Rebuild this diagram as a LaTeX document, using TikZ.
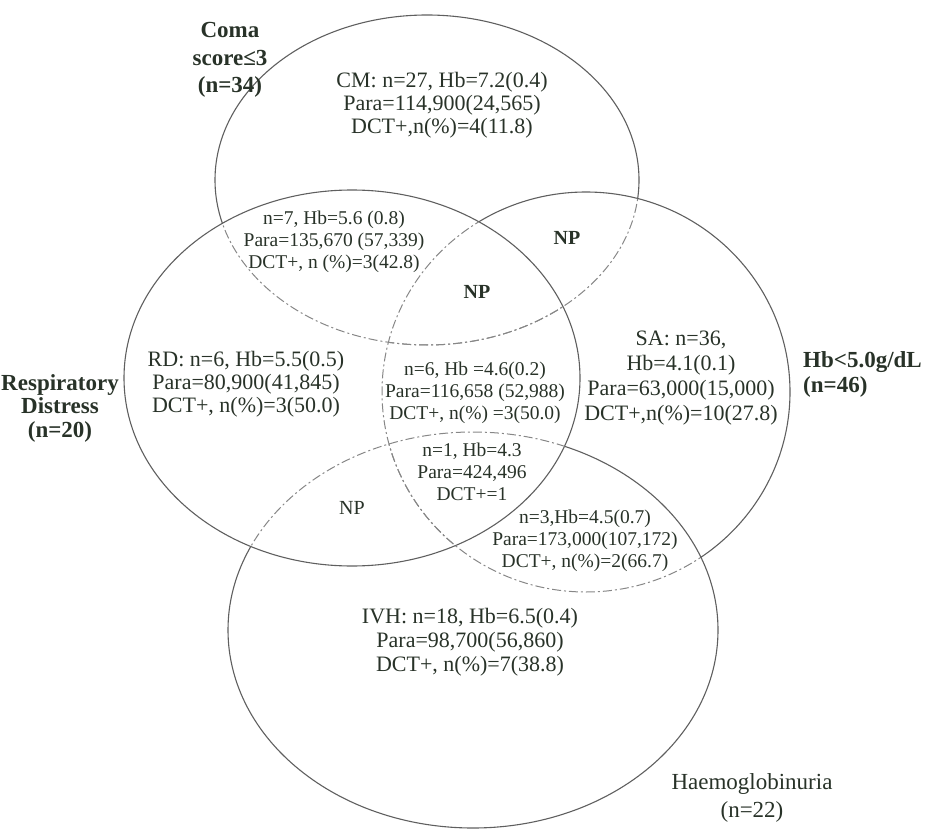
\documentclass[tikz,border=0pt]{standalone}
\usepackage{fontspec}
\setmainfont{Liberation Serif}
\definecolor{txtc}{RGB}{40,50,40}
\definecolor{linec}{RGB}{95,95,95}
\definecolor{dashc}{RGB}{135,135,135}
\begin{document}
\begin{tikzpicture}[x=1pt,y=-1pt,
  txt/.style={text=txtc, align=center, inner sep=0pt},
  big/.style={font=\fontsize{22}{23}\selectfont},
  bigivh/.style={font=\fontsize{22}{24}\selectfont},
  bigsa/.style={font=\fontsize{22}{25}\selectfont},
  small/.style={font=\fontsize{19.5}{22}\selectfont},
  lab/.style={font=\fontsize{23}{27.5}\selectfont\bfseries},
  labrd/.style={font=\fontsize{23}{23.5}\selectfont\bfseries},
  labhb/.style={font=\fontsize{23}{25}\selectfont\bfseries},
  labr/.style={font=\fontsize{23}{27.5}\selectfont},
  npb/.style={font=\fontsize{20}{22}\selectfont\bfseries},
  npr/.style={font=\fontsize{20}{22}\selectfont},
  solidline/.style={draw=linec, line width=1.1pt},
  dashline/.style={draw=dashc, line width=1pt, dash pattern=on 9pt off 3pt on 2pt off 3pt},
]
\useasboundingbox (0,0) rectangle (926,829);

% ---- Coma ellipse: solid outside RD and Hb ----
\begin{scope}
  \clip (-10,-10) -- (940,-10) -- (940,840) -- (-10,840) -- cycle
        (352,378) ellipse (228pt and 188pt);
  \clip (-10,-10) -- (940,-10) -- (940,840) -- (-10,840) -- cycle
        (586,392) ellipse (204pt and 200pt);
  \draw[solidline] (427,180) ellipse (212pt and 165pt);
\end{scope}
\begin{scope}
  \clip (352,378) ellipse (228pt and 188pt);
  \draw[dashline] (427,180) ellipse (212pt and 165pt);
\end{scope}
\begin{scope}
  \clip (586,392) ellipse (204pt and 200pt);
  \draw[dashline] (427,180) ellipse (212pt and 165pt);
\end{scope}

% ---- RD ellipse: solid ----
\draw[solidline] (352,378) ellipse (228pt and 188pt);

% ---- Hb ellipse: solid outside RD and IVH ----
\begin{scope}
  \clip (-10,-10) -- (940,-10) -- (940,840) -- (-10,840) -- cycle
        (352,378) ellipse (228pt and 188pt);
  \clip (-10,-10) -- (940,-10) -- (940,840) -- (-10,840) -- cycle
        (473,630) ellipse (245pt and 198pt);
  \draw[solidline] (586,392) ellipse (204pt and 200pt);
\end{scope}
\begin{scope}
  \clip (352,378) ellipse (228pt and 188pt);
  \draw[dashline] (586,392) ellipse (204pt and 200pt);
\end{scope}
\begin{scope}
  \clip (473,630) ellipse (245pt and 198pt);
  \draw[dashline] (586,392) ellipse (204pt and 200pt);
\end{scope}

% ---- IVH ellipse: solid outside RD ----
\begin{scope}
  \clip (-10,-10) -- (940,-10) -- (940,840) -- (-10,840) -- cycle
        (352,378) ellipse (228pt and 188pt);
  \draw[solidline] (473,630) ellipse (245pt and 198pt);
\end{scope}
\begin{scope}
  \clip (352,378) ellipse (228pt and 188pt);
  \draw[dashline] (473,630) ellipse (245pt and 198pt);
\end{scope}

% ---- texts ----
\node[txt,lab] (comaL) at (230,60) {Coma\\score≤3\\(n=34)};
\node[txt,big] (cm) at (442,105) {CM: n=27, Hb=7.2(0.4)\\Para=114,900(24,565)\\DCT+,n(\%)=4(11.8)};
\node[txt,small] (cr) at (334,242) {n=7, Hb=5.6 (0.8)\\Para=135,670 (57,339)\\DCT+, n (\%)=3(42.8)};
\node[txt,npb] (np1) at (567,238) {NP};
\node[txt,npb] (np2) at (477,292) {NP};
\node[txt,big] (rd) at (246,384) {RD: n=6, Hb=5.5(0.5)\\Para=80,900(41,845)\\DCT+, n(\%)=3(50.0)};
\node[txt,labrd] (rdL) at (60,408) {Respiratory\\Distress\\(n=20)};
\node[txt,small] (crh) at (475,393) {n=6, Hb =4.6(0.2)\\Para=116,658 (52,988)\\DCT+, n(\%) =3(50.0)};
\node[txt,bigsa] (sa) at (681,378) {SA: n=36,\\Hb=4.1(0.1)\\Para=63,000(15,000)\\DCT+,n(\%)=10(27.8)};
\node[txt,labhb,align=left,anchor=west] (hbL) at (803,374) {Hb<5.0g/dL\\(n=46)};
\node[txt,small] (all) at (472,472) {n=1, Hb=4.3\\Para=424,496\\DCT+=1};
\node[txt,npr] (np3) at (352,508) {NP};
\node[txt,small] (hi) at (585,541) {n=3,Hb=4.5(0.7)\\Para=173,000(107,172)\\DCT+, n(\%)=2(66.7)};
\node[txt,bigivh] (ivh) at (470,642) {IVH: n=18, Hb=6.5(0.4)\\Para=98,700(56,860)\\DCT+, n(\%)=7(38.8)};
\node[txt,labr] (ivhL) at (752,798) {Haemoglobinuria\\(n=22)};
\end{tikzpicture}
\end{document}
